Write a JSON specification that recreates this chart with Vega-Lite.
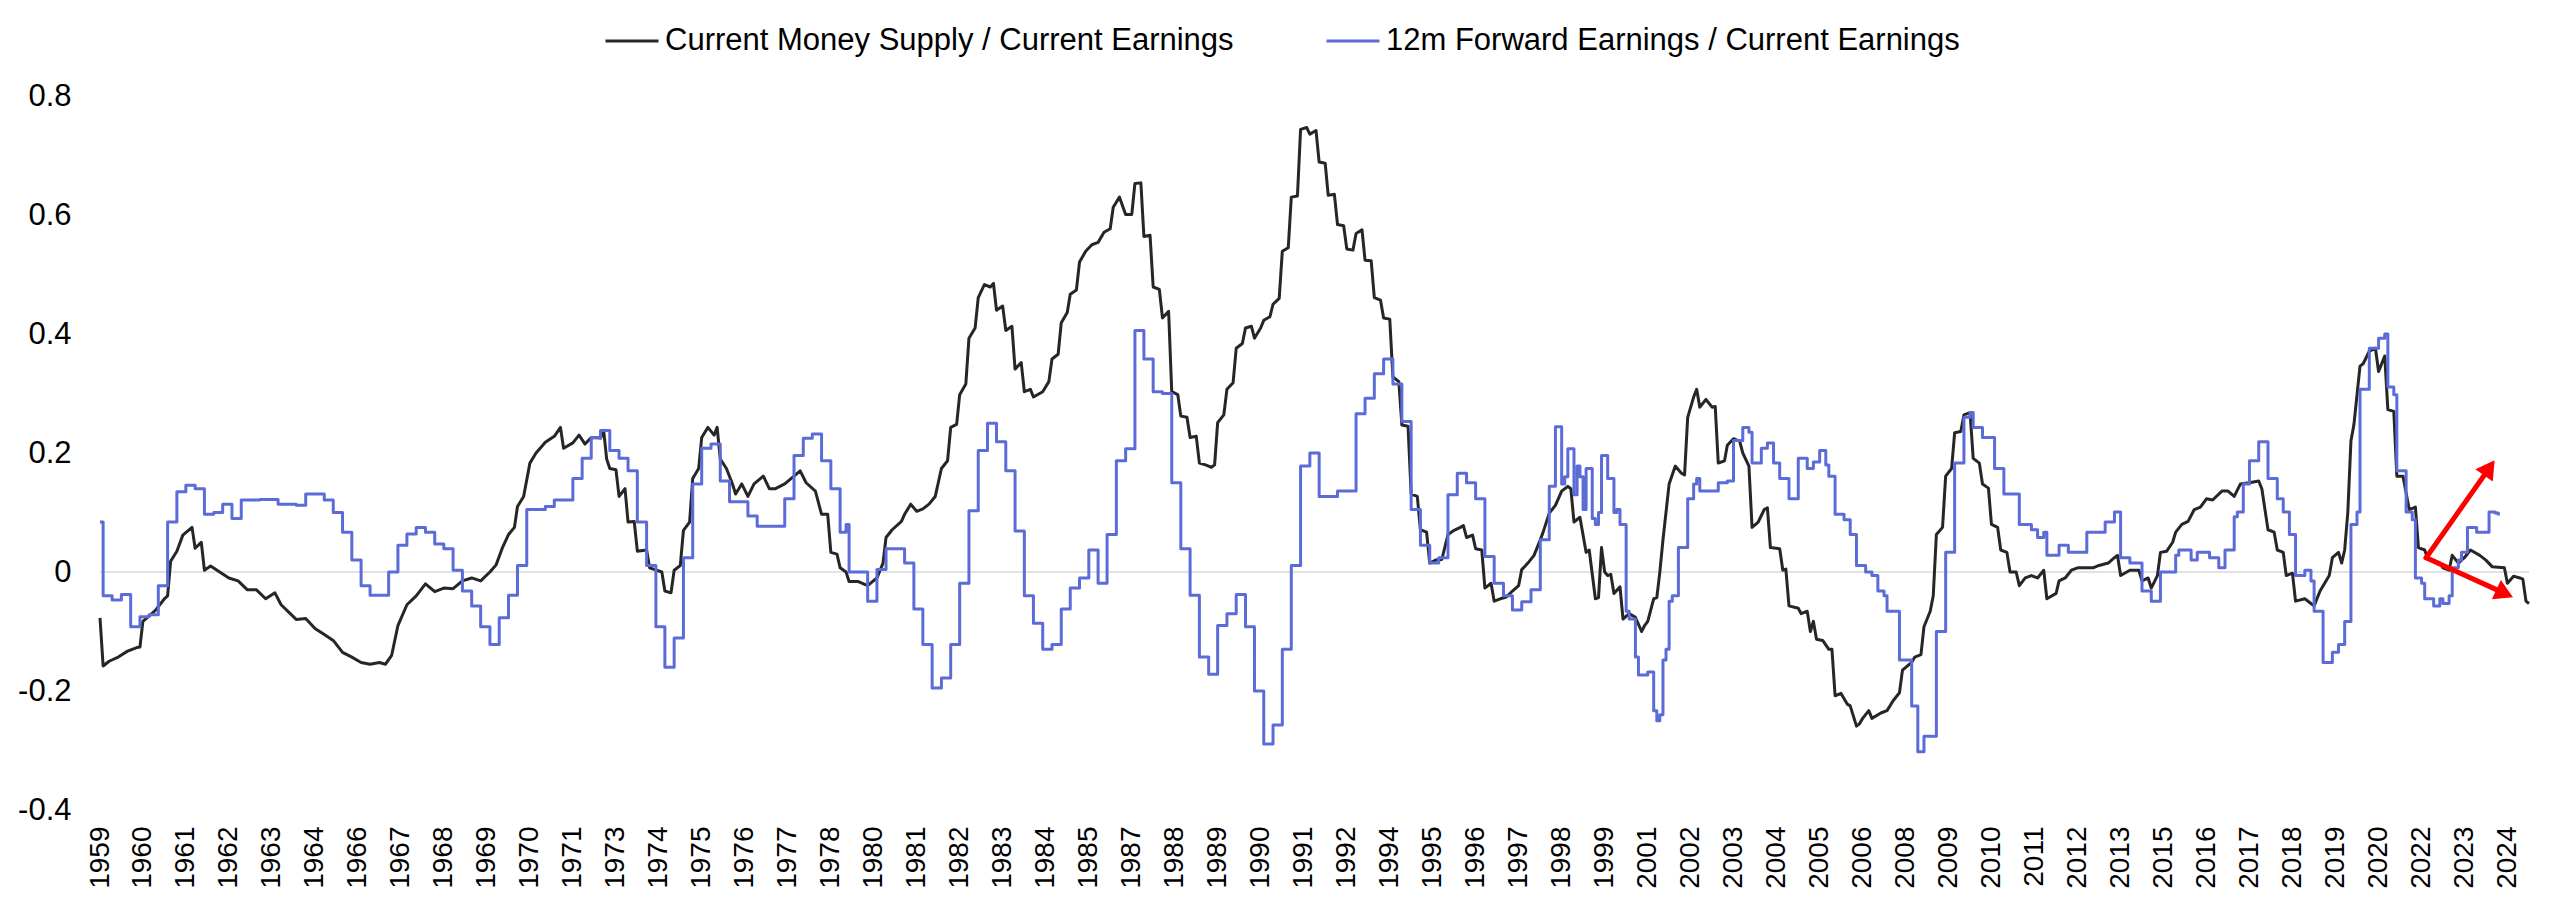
{
"$schema":"https://vega.github.io/schema/vega-lite/v6.json",
"width":2429,"height":714,
"autosize":{"type":"none"},
"padding":{"left":100,"top":96,"right":31,"bottom":106},
"background":"white",
"config":{"view":{"stroke":null},"font":"Liberation Sans"},
"datasets":{
"money":[
{"d":"1959-01","v":-0.077},{"d":"1959-02","v":-0.158},{"d":"1959-04","v":-0.15},{"d":"1959-07","v":-0.143},{"d":"1959-10","v":-0.133},{"d":"1960-01","v":-0.127},{"d":"1960-02","v":-0.126},{"d":"1960-03","v":-0.083},{"d":"1960-07","v":-0.065},{"d":"1960-10","v":-0.045},{"d":"1960-11","v":-0.04},{"d":"1960-12","v":0.018},
{"d":"1961-02","v":0.035},{"d":"1961-04","v":0.062},{"d":"1961-07","v":0.075},{"d":"1961-08","v":0.04},{"d":"1961-10","v":0.05},{"d":"1961-11","v":0.003},{"d":"1962-01","v":0.01},{"d":"1962-04","v":0.0},{"d":"1962-07","v":-0.01},{"d":"1962-10","v":-0.015},
{"d":"1963-01","v":-0.03},{"d":"1963-04","v":-0.03},{"d":"1963-07","v":-0.045},{"d":"1963-10","v":-0.035},{"d":"1963-12","v":-0.055},{"d":"1964-03","v":-0.07},{"d":"1964-05","v":-0.08},{"d":"1964-08","v":-0.078},{"d":"1964-11","v":-0.095},
{"d":"1965-02","v":-0.105},{"d":"1965-05","v":-0.115},{"d":"1965-08","v":-0.135},{"d":"1965-11","v":-0.143},{"d":"1966-02","v":-0.152},{"d":"1966-05","v":-0.155},{"d":"1966-08","v":-0.152},{"d":"1966-10","v":-0.155},{"d":"1966-12","v":-0.14},
{"d":"1967-02","v":-0.09},{"d":"1967-05","v":-0.055},{"d":"1967-08","v":-0.04},{"d":"1967-11","v":-0.02},{"d":"1968-02","v":-0.033},{"d":"1968-05","v":-0.027},{"d":"1968-08","v":-0.028},{"d":"1968-11","v":-0.015},
{"d":"1969-02","v":-0.01},{"d":"1969-05","v":-0.015},{"d":"1969-08","v":0.0},{"d":"1969-10","v":0.012},{"d":"1969-12","v":0.04},{"d":"1970-02","v":0.063},{"d":"1970-04","v":0.075},{"d":"1970-05","v":0.11},{"d":"1970-07","v":0.127},{"d":"1970-09","v":0.183},{"d":"1970-11","v":0.2},
{"d":"1971-02","v":0.218},{"d":"1971-05","v":0.228},{"d":"1971-07","v":0.243},{"d":"1971-08","v":0.208},{"d":"1971-11","v":0.217},{"d":"1972-01","v":0.23},{"d":"1972-03","v":0.215},{"d":"1972-05","v":0.226},{"d":"1972-08","v":0.225},{"d":"1972-09","v":0.238},{"d":"1972-10","v":0.19},{"d":"1972-11","v":0.174},
{"d":"1973-01","v":0.172},{"d":"1973-02","v":0.127},{"d":"1973-04","v":0.14},{"d":"1973-05","v":0.084},{"d":"1973-07","v":0.085},{"d":"1973-08","v":0.035},{"d":"1973-11","v":0.037},{"d":"1973-12","v":0.007},
{"d":"1974-04","v":0.0},{"d":"1974-05","v":-0.032},{"d":"1974-07","v":-0.035},{"d":"1974-08","v":0.003},{"d":"1974-10","v":0.011},{"d":"1974-11","v":0.07},
{"d":"1975-01","v":0.084},{"d":"1975-02","v":0.157},{"d":"1975-04","v":0.174},{"d":"1975-05","v":0.226},{"d":"1975-07","v":0.243},{"d":"1975-09","v":0.23},{"d":"1975-10","v":0.243},{"d":"1975-11","v":0.19},
{"d":"1976-01","v":0.174},{"d":"1976-03","v":0.148},{"d":"1976-04","v":0.131},{"d":"1976-06","v":0.148},{"d":"1976-08","v":0.127},{"d":"1976-10","v":0.148},
{"d":"1977-01","v":0.161},{"d":"1977-03","v":0.14},{"d":"1977-05","v":0.14},{"d":"1977-08","v":0.148},{"d":"1977-11","v":0.161},
{"d":"1978-01","v":0.17},{"d":"1978-03","v":0.15},{"d":"1978-06","v":0.136},{"d":"1978-08","v":0.097},{"d":"1978-10","v":0.097},{"d":"1978-11","v":0.033},
{"d":"1979-01","v":0.03},{"d":"1979-02","v":0.007},{"d":"1979-04","v":0.0},{"d":"1979-05","v":-0.016},{"d":"1979-08","v":-0.016},{"d":"1979-11","v":-0.023},
{"d":"1980-02","v":-0.01},{"d":"1980-04","v":0.015},{"d":"1980-05","v":0.058},{"d":"1980-07","v":0.071},{"d":"1980-10","v":0.085},{"d":"1980-11","v":0.097},
{"d":"1981-01","v":0.114},{"d":"1981-03","v":0.102},{"d":"1981-05","v":0.106},{"d":"1981-07","v":0.114},{"d":"1981-09","v":0.127},{"d":"1981-11","v":0.174},
{"d":"1982-01","v":0.187},{"d":"1982-02","v":0.243},{"d":"1982-04","v":0.248},{"d":"1982-05","v":0.298},{"d":"1982-07","v":0.316},{"d":"1982-08","v":0.393},{"d":"1982-10","v":0.41},{"d":"1982-11","v":0.461},
{"d":"1983-01","v":0.483},{"d":"1983-03","v":0.479},{"d":"1983-04","v":0.485},{"d":"1983-05","v":0.44},{"d":"1983-07","v":0.447},{"d":"1983-08","v":0.406},{"d":"1983-10","v":0.413},{"d":"1983-11","v":0.341},
{"d":"1984-01","v":0.352},{"d":"1984-02","v":0.303},{"d":"1984-04","v":0.307},{"d":"1984-05","v":0.294},{"d":"1984-08","v":0.303},{"d":"1984-10","v":0.32},{"d":"1984-11","v":0.358},
{"d":"1985-01","v":0.366},{"d":"1985-02","v":0.419},{"d":"1985-04","v":0.436},{"d":"1985-05","v":0.467},{"d":"1985-07","v":0.474},{"d":"1985-08","v":0.521},{"d":"1985-10","v":0.539},{"d":"1985-12","v":0.55},
{"d":"1986-02","v":0.554},{"d":"1986-04","v":0.571},{"d":"1986-06","v":0.577},{"d":"1986-07","v":0.613},{"d":"1986-09","v":0.63},{"d":"1986-11","v":0.601},
{"d":"1987-01","v":0.601},{"d":"1987-02","v":0.653},{"d":"1987-04","v":0.654},{"d":"1987-05","v":0.564},{"d":"1987-07","v":0.566},{"d":"1987-08","v":0.479},{"d":"1987-10","v":0.475},{"d":"1987-11","v":0.427},
{"d":"1988-01","v":0.438},{"d":"1988-02","v":0.303},{"d":"1988-04","v":0.298},{"d":"1988-05","v":0.262},{"d":"1988-07","v":0.26},{"d":"1988-08","v":0.226},{"d":"1988-10","v":0.228},{"d":"1988-11","v":0.183},
{"d":"1989-01","v":0.18},{"d":"1989-03","v":0.176},{"d":"1989-04","v":0.18},{"d":"1989-05","v":0.251},{"d":"1989-07","v":0.264},{"d":"1989-08","v":0.307},{"d":"1989-10","v":0.318},{"d":"1989-11","v":0.376},
{"d":"1990-01","v":0.384},{"d":"1990-02","v":0.41},{"d":"1990-04","v":0.413},{"d":"1990-05","v":0.393},{"d":"1990-07","v":0.41},{"d":"1990-08","v":0.423},{"d":"1990-10","v":0.429},{"d":"1990-11","v":0.45},
{"d":"1991-01","v":0.46},{"d":"1991-02","v":0.539},{"d":"1991-04","v":0.545},{"d":"1991-05","v":0.63},{"d":"1991-07","v":0.632},{"d":"1991-08","v":0.744},{"d":"1991-10","v":0.747},{"d":"1991-11","v":0.736},
{"d":"1992-01","v":0.742},{"d":"1992-02","v":0.689},{"d":"1992-04","v":0.687},{"d":"1992-05","v":0.633},{"d":"1992-07","v":0.635},{"d":"1992-08","v":0.584},{"d":"1992-10","v":0.582},{"d":"1992-11","v":0.543},
{"d":"1993-01","v":0.541},{"d":"1993-02","v":0.569},{"d":"1993-04","v":0.575},{"d":"1993-05","v":0.524},{"d":"1993-07","v":0.523},{"d":"1993-08","v":0.461},{"d":"1993-10","v":0.457},{"d":"1993-11","v":0.427},
{"d":"1994-01","v":0.425},{"d":"1994-02","v":0.328},{"d":"1994-04","v":0.32},{"d":"1994-05","v":0.247},{"d":"1994-07","v":0.245},{"d":"1994-08","v":0.131},{"d":"1994-10","v":0.127},{"d":"1994-11","v":0.071},
{"d":"1995-01","v":0.067},{"d":"1995-02","v":0.015},{"d":"1995-04","v":0.02},{"d":"1995-06","v":0.021},{"d":"1995-08","v":0.063},{"d":"1995-10","v":0.07},{"d":"1995-12","v":0.075},
{"d":"1996-01","v":0.078},{"d":"1996-02","v":0.058},{"d":"1996-04","v":0.062},{"d":"1996-05","v":0.039},{"d":"1996-07","v":0.037},{"d":"1996-08","v":-0.027},{"d":"1996-10","v":-0.019},{"d":"1996-11","v":-0.049},
{"d":"1997-01","v":-0.045},{"d":"1997-03","v":-0.042},{"d":"1997-05","v":-0.032},{"d":"1997-07","v":-0.023},{"d":"1997-08","v":0.004},{"d":"1997-10","v":0.015},{"d":"1997-12","v":0.028},
{"d":"1998-02","v":0.054},{"d":"1998-03","v":0.067},{"d":"1998-05","v":0.099},{"d":"1998-07","v":0.112},{"d":"1998-09","v":0.136},{"d":"1998-11","v":0.144},{"d":"1998-12","v":0.14},
{"d":"1999-01","v":0.084},{"d":"1999-03","v":0.092},{"d":"1999-05","v":0.033},{"d":"1999-06","v":0.037},{"d":"1999-08","v":-0.045},{"d":"1999-09","v":-0.043},{"d":"1999-10","v":0.041},{"d":"1999-11","v":0.0},{"d":"1999-12","v":-0.006},
{"d":"2000-01","v":-0.004},{"d":"2000-02","v":-0.036},{"d":"2000-04","v":-0.025},{"d":"2000-05","v":-0.079},{"d":"2000-07","v":-0.07},{"d":"2000-09","v":-0.076},{"d":"2000-11","v":-0.1},{"d":"2000-12","v":-0.09},
{"d":"2001-01","v":-0.083},{"d":"2001-03","v":-0.045},{"d":"2001-04","v":-0.043},{"d":"2001-05","v":0.0},{"d":"2001-06","v":0.054},{"d":"2001-07","v":0.1},{"d":"2001-08","v":0.148},{"d":"2001-10","v":0.178},{"d":"2001-12","v":0.166},
{"d":"2002-01","v":0.163},{"d":"2002-02","v":0.26},{"d":"2002-04","v":0.294},{"d":"2002-05","v":0.307},{"d":"2002-06","v":0.277},{"d":"2002-08","v":0.29},{"d":"2002-10","v":0.277},{"d":"2002-11","v":0.278},{"d":"2002-12","v":0.183},
{"d":"2003-02","v":0.187},{"d":"2003-03","v":0.213},{"d":"2003-05","v":0.224},{"d":"2003-07","v":0.22},{"d":"2003-08","v":0.2},{"d":"2003-10","v":0.178},{"d":"2003-11","v":0.075},
{"d":"2004-01","v":0.084},{"d":"2004-03","v":0.105},{"d":"2004-04","v":0.108},{"d":"2004-05","v":0.041},{"d":"2004-08","v":0.039},{"d":"2004-09","v":0.003},{"d":"2004-10","v":0.005},{"d":"2004-11","v":-0.057},
{"d":"2005-02","v":-0.061},{"d":"2005-03","v":-0.07},{"d":"2005-05","v":-0.066},{"d":"2005-06","v":-0.1},{"d":"2005-07","v":-0.083},{"d":"2005-08","v":-0.113},{"d":"2005-10","v":-0.115},{"d":"2005-12","v":-0.13},
{"d":"2006-01","v":-0.13},{"d":"2006-02","v":-0.208},{"d":"2006-04","v":-0.204},{"d":"2006-06","v":-0.222},{"d":"2006-07","v":-0.225},{"d":"2006-09","v":-0.259},{"d":"2006-10","v":-0.255},{"d":"2006-11","v":-0.246},
{"d":"2007-01","v":-0.233},{"d":"2007-02","v":-0.246},{"d":"2007-05","v":-0.237},{"d":"2007-07","v":-0.233},{"d":"2007-09","v":-0.216},{"d":"2007-11","v":-0.203},{"d":"2007-12","v":-0.165},
{"d":"2008-03","v":-0.152},{"d":"2008-04","v":-0.143},{"d":"2008-06","v":-0.139},{"d":"2008-07","v":-0.092},{"d":"2008-09","v":-0.066},{"d":"2008-10","v":-0.04},{"d":"2008-11","v":0.063},
{"d":"2009-01","v":0.075},{"d":"2009-02","v":0.161},{"d":"2009-04","v":0.174},{"d":"2009-05","v":0.234},{"d":"2009-07","v":0.236},{"d":"2009-08","v":0.264},{"d":"2009-10","v":0.268},{"d":"2009-11","v":0.191},
{"d":"2010-01","v":0.183},{"d":"2010-02","v":0.148},{"d":"2010-04","v":0.141},{"d":"2010-05","v":0.08},{"d":"2010-07","v":0.075},{"d":"2010-08","v":0.037},{"d":"2010-10","v":0.033},{"d":"2010-11","v":0.0},
{"d":"2011-01","v":0.0},{"d":"2011-02","v":-0.023},{"d":"2011-04","v":-0.01},{"d":"2011-06","v":-0.006},{"d":"2011-08","v":-0.01},{"d":"2011-10","v":0.003},{"d":"2011-11","v":-0.045},
{"d":"2012-02","v":-0.036},{"d":"2012-03","v":-0.015},{"d":"2012-05","v":-0.01},{"d":"2012-07","v":0.003},{"d":"2012-09","v":0.007},{"d":"2012-12","v":0.007},
{"d":"2013-02","v":0.007},{"d":"2013-04","v":0.011},{"d":"2013-07","v":0.015},{"d":"2013-09","v":0.024},{"d":"2013-10","v":0.028},{"d":"2013-11","v":-0.006},
{"d":"2014-02","v":0.003},{"d":"2014-05","v":0.003},{"d":"2014-06","v":-0.015},{"d":"2014-08","v":-0.01},{"d":"2014-09","v":-0.027},{"d":"2014-11","v":-0.006},{"d":"2014-12","v":0.033},
{"d":"2015-02","v":0.035},{"d":"2015-04","v":0.05},{"d":"2015-05","v":0.067},{"d":"2015-07","v":0.08},{"d":"2015-09","v":0.085},{"d":"2015-11","v":0.105},
{"d":"2016-01","v":0.109},{"d":"2016-03","v":0.123},{"d":"2016-05","v":0.121},{"d":"2016-08","v":0.136},{"d":"2016-10","v":0.136},{"d":"2016-12","v":0.127},
{"d":"2017-02","v":0.148},{"d":"2017-05","v":0.15},{"d":"2017-08","v":0.153},{"d":"2017-09","v":0.14},{"d":"2017-11","v":0.071},
{"d":"2018-01","v":0.067},{"d":"2018-02","v":0.037},{"d":"2018-04","v":0.033},{"d":"2018-05","v":-0.006},{"d":"2018-07","v":-0.002},{"d":"2018-08","v":-0.049},{"d":"2018-11","v":-0.045},
{"d":"2019-01","v":-0.053},{"d":"2019-02","v":-0.057},{"d":"2019-04","v":-0.032},{"d":"2019-07","v":-0.006},{"d":"2019-08","v":0.024},{"d":"2019-10","v":0.033},{"d":"2019-11","v":0.015},{"d":"2019-12","v":0.037},
{"d":"2020-01","v":0.1},{"d":"2020-02","v":0.22},{"d":"2020-03","v":0.247},{"d":"2020-05","v":0.346},{"d":"2020-06","v":0.35},{"d":"2020-08","v":0.371},{"d":"2020-10","v":0.376},{"d":"2020-11","v":0.337},
{"d":"2021-01","v":0.363},{"d":"2021-02","v":0.273},{"d":"2021-04","v":0.27},{"d":"2021-05","v":0.161},{"d":"2021-07","v":0.161},{"d":"2021-09","v":0.105},{"d":"2021-11","v":0.109},{"d":"2021-12","v":0.041},
{"d":"2022-02","v":0.037},{"d":"2022-03","v":0.024},{"d":"2022-05","v":0.02},{"d":"2022-07","v":0.015},{"d":"2022-08","v":0.007},{"d":"2022-10","v":0.003},{"d":"2022-11","v":0.028},
{"d":"2023-01","v":0.015},{"d":"2023-03","v":0.024},{"d":"2023-05","v":0.037},{"d":"2023-08","v":0.028},{"d":"2023-10","v":0.02},{"d":"2023-12","v":0.009},
{"d":"2024-04","v":0.007},{"d":"2024-05","v":-0.019},{"d":"2024-07","v":-0.007},{"d":"2024-09","v":-0.01},{"d":"2024-10","v":-0.012},{"d":"2024-11","v":-0.049},{"d":"2024-12","v":-0.053}
],
"fwd":[
{"d":"1959-01","v":0.084},{"d":"1959-02","v":-0.04},{"d":"1959-05","v":-0.047},{"d":"1959-08","v":-0.038},{"d":"1959-11","v":-0.092},{"d":"1960-02","v":-0.075},{"d":"1960-05","v":-0.072},{"d":"1960-08","v":-0.023},{"d":"1960-11","v":0.084},
{"d":"1961-02","v":0.135},{"d":"1961-05","v":0.146},{"d":"1961-08","v":0.14},{"d":"1961-11","v":0.097},{"d":"1962-02","v":0.1},{"d":"1962-05","v":0.114},{"d":"1962-08","v":0.09},{"d":"1962-11","v":0.121},
{"d":"1963-05","v":0.122},{"d":"1963-11","v":0.114},{"d":"1964-05","v":0.112},{"d":"1964-08","v":0.131},{"d":"1965-02","v":0.121},{"d":"1965-05","v":0.1},{"d":"1965-08","v":0.067},{"d":"1965-11","v":0.02},
{"d":"1966-02","v":-0.023},{"d":"1966-05","v":-0.039},{"d":"1966-11","v":0.0},{"d":"1967-02","v":0.045},{"d":"1967-05","v":0.064},{"d":"1967-08","v":0.075},{"d":"1967-11","v":0.067},
{"d":"1968-02","v":0.047},{"d":"1968-05","v":0.039},{"d":"1968-08","v":0.003},{"d":"1968-11","v":-0.032},{"d":"1969-02","v":-0.057},{"d":"1969-05","v":-0.092},{"d":"1969-08","v":-0.122},{"d":"1969-11","v":-0.077},
{"d":"1970-02","v":-0.039},{"d":"1970-05","v":0.011},{"d":"1970-08","v":0.105},{"d":"1971-02","v":0.11},{"d":"1971-05","v":0.121},{"d":"1971-11","v":0.157},
{"d":"1972-02","v":0.191},{"d":"1972-05","v":0.226},{"d":"1972-08","v":0.238},{"d":"1972-11","v":0.204},{"d":"1973-02","v":0.191},{"d":"1973-05","v":0.17},{"d":"1973-08","v":0.084},{"d":"1973-11","v":0.011},
{"d":"1974-02","v":-0.092},{"d":"1974-05","v":-0.16},{"d":"1974-08","v":-0.111},{"d":"1974-11","v":0.024},{"d":"1975-02","v":0.148},{"d":"1975-05","v":0.208},{"d":"1975-08","v":0.215},{"d":"1975-11","v":0.153},
{"d":"1976-02","v":0.118},{"d":"1976-08","v":0.094},{"d":"1976-11","v":0.077},{"d":"1977-08","v":0.123},{"d":"1977-11","v":0.196},
{"d":"1978-02","v":0.225},{"d":"1978-05","v":0.232},{"d":"1978-08","v":0.187},{"d":"1978-11","v":0.14},{"d":"1979-02","v":0.067},{"d":"1979-04","v":0.08},{"d":"1979-05","v":0.0},{"d":"1979-11","v":-0.049},
{"d":"1980-02","v":0.004},{"d":"1980-05","v":0.039},{"d":"1980-11","v":0.015},{"d":"1981-02","v":-0.062},{"d":"1981-05","v":-0.122},{"d":"1981-08","v":-0.195},{"d":"1981-11","v":-0.178},
{"d":"1982-02","v":-0.122},{"d":"1982-05","v":-0.019},{"d":"1982-08","v":0.103},{"d":"1982-11","v":0.204},{"d":"1983-02","v":0.25},{"d":"1983-05","v":0.219},{"d":"1983-08","v":0.17},{"d":"1983-11","v":0.069},
{"d":"1984-02","v":-0.04},{"d":"1984-05","v":-0.086},{"d":"1984-08","v":-0.13},{"d":"1984-11","v":-0.122},{"d":"1985-02","v":-0.062},{"d":"1985-05","v":-0.027},{"d":"1985-08","v":-0.01},{"d":"1985-11","v":0.037},
{"d":"1986-02","v":-0.019},{"d":"1986-05","v":0.063},{"d":"1986-08","v":0.187},{"d":"1986-11","v":0.207},{"d":"1987-02","v":0.406},{"d":"1987-05","v":0.358},{"d":"1987-08","v":0.303},{"d":"1987-11","v":0.3},
{"d":"1988-02","v":0.15},{"d":"1988-05","v":0.039},{"d":"1988-08","v":-0.039},{"d":"1988-11","v":-0.143},{"d":"1989-02","v":-0.172},{"d":"1989-05","v":-0.09},{"d":"1989-08","v":-0.07},{"d":"1989-11","v":-0.038},
{"d":"1990-02","v":-0.092},{"d":"1990-05","v":-0.2},{"d":"1990-08","v":-0.289},{"d":"1990-11","v":-0.257},{"d":"1991-02","v":-0.13},{"d":"1991-05","v":0.011},{"d":"1991-08","v":0.178},{"d":"1991-11","v":0.2},
{"d":"1992-02","v":0.127},{"d":"1992-08","v":0.136},{"d":"1993-02","v":0.266},{"d":"1993-05","v":0.292},{"d":"1993-08","v":0.333},{"d":"1993-11","v":0.358},
{"d":"1994-02","v":0.316},{"d":"1994-05","v":0.253},{"d":"1994-08","v":0.105},{"d":"1994-11","v":0.045},{"d":"1995-02","v":0.015},{"d":"1995-05","v":0.024},{"d":"1995-08","v":0.13},{"d":"1995-11","v":0.166},
{"d":"1996-02","v":0.15},{"d":"1996-05","v":0.123},{"d":"1996-08","v":0.026},{"d":"1996-11","v":-0.019},{"d":"1997-02","v":-0.04},{"d":"1997-05","v":-0.064},{"d":"1997-08","v":-0.05},{"d":"1997-11","v":-0.03},
{"d":"1998-02","v":0.054},{"d":"1998-05","v":0.144},{"d":"1998-07","v":0.244},{"d":"1998-09","v":0.148},{"d":"1998-10","v":0.16},{"d":"1998-11","v":0.207},
{"d":"1999-01","v":0.13},{"d":"1999-02","v":0.178},{"d":"1999-03","v":0.16},{"d":"1999-04","v":0.105},{"d":"1999-05","v":0.174},{"d":"1999-07","v":0.09},{"d":"1999-08","v":0.08},{"d":"1999-09","v":0.1},{"d":"1999-10","v":0.196},{"d":"1999-12","v":0.157},
{"d":"2000-02","v":0.1},{"d":"2000-03","v":0.105},{"d":"2000-04","v":0.08},{"d":"2000-06","v":-0.066},{"d":"2000-07","v":-0.079},{"d":"2000-09","v":-0.143},{"d":"2000-10","v":-0.173},
{"d":"2001-01","v":-0.168},{"d":"2001-03","v":-0.233},{"d":"2001-04","v":-0.25},{"d":"2001-05","v":-0.24},{"d":"2001-06","v":-0.148},{"d":"2001-07","v":-0.13},{"d":"2001-08","v":-0.049},{"d":"2001-09","v":-0.04},{"d":"2001-11","v":0.041},
{"d":"2002-02","v":0.123},{"d":"2002-04","v":0.148},{"d":"2002-05","v":0.157},{"d":"2002-06","v":0.136},{"d":"2002-12","v":0.15},
{"d":"2003-03","v":0.153},{"d":"2003-05","v":0.221},{"d":"2003-08","v":0.243},{"d":"2003-10","v":0.235},{"d":"2003-11","v":0.183},
{"d":"2004-02","v":0.208},{"d":"2004-04","v":0.217},{"d":"2004-06","v":0.183},{"d":"2004-08","v":0.157},{"d":"2004-11","v":0.123},
{"d":"2005-02","v":0.191},{"d":"2005-05","v":0.174},{"d":"2005-07","v":0.185},{"d":"2005-09","v":0.204},{"d":"2005-11","v":0.18},{"d":"2005-12","v":0.161},
{"d":"2006-02","v":0.097},{"d":"2006-05","v":0.088},{"d":"2006-07","v":0.063},{"d":"2006-09","v":0.011},{"d":"2006-12","v":0.0},
{"d":"2007-02","v":-0.006},{"d":"2007-04","v":-0.032},{"d":"2007-06","v":-0.04},{"d":"2007-07","v":-0.066},{"d":"2007-11","v":-0.148},
{"d":"2008-03","v":-0.225},{"d":"2008-05","v":-0.302},{"d":"2008-07","v":-0.276},{"d":"2008-11","v":-0.1},
{"d":"2009-02","v":0.033},{"d":"2009-05","v":0.183},{"d":"2009-08","v":0.26},{"d":"2009-10","v":0.268},{"d":"2009-11","v":0.243},
{"d":"2010-02","v":0.226},{"d":"2010-06","v":0.174},{"d":"2010-09","v":0.131},{"d":"2011-02","v":0.08},{"d":"2011-06","v":0.071},{"d":"2011-08","v":0.058},{"d":"2011-10","v":0.067},{"d":"2011-11","v":0.028},
{"d":"2012-03","v":0.045},{"d":"2012-06","v":0.033},{"d":"2012-12","v":0.067},{"d":"2013-06","v":0.084},{"d":"2013-09","v":0.101},{"d":"2013-11","v":0.024},
{"d":"2014-02","v":0.015},{"d":"2014-06","v":-0.032},{"d":"2014-09","v":-0.049},{"d":"2014-12","v":0.0},
{"d":"2015-05","v":0.028},{"d":"2015-06","v":0.037},{"d":"2015-10","v":0.02},{"d":"2015-12","v":0.033},
{"d":"2016-04","v":0.024},{"d":"2016-07","v":0.007},{"d":"2016-09","v":0.037},{"d":"2016-12","v":0.093},
{"d":"2017-01","v":0.101},{"d":"2017-03","v":0.148},{"d":"2017-05","v":0.187},{"d":"2017-08","v":0.219},{"d":"2017-11","v":0.157},
{"d":"2018-02","v":0.123},{"d":"2018-04","v":0.101},{"d":"2018-06","v":0.063},{"d":"2018-08","v":-0.006},{"d":"2018-11","v":0.003},
{"d":"2019-01","v":-0.015},{"d":"2019-02","v":-0.066},{"d":"2019-05","v":-0.152},{"d":"2019-08","v":-0.135},{"d":"2019-10","v":-0.122},{"d":"2019-12","v":-0.083},
{"d":"2020-02","v":0.08},{"d":"2020-04","v":0.101},{"d":"2020-05","v":0.307},{"d":"2020-08","v":0.376},{"d":"2020-11","v":0.393},
{"d":"2021-01","v":0.4},{"d":"2021-02","v":0.311},{"d":"2021-04","v":0.298},{"d":"2021-05","v":0.17},{"d":"2021-08","v":0.101},{"d":"2021-10","v":0.088},{"d":"2021-11","v":-0.01},
{"d":"2022-01","v":-0.019},{"d":"2022-02","v":-0.045},{"d":"2022-05","v":-0.057},{"d":"2022-07","v":-0.045},{"d":"2022-08","v":-0.053},{"d":"2022-10","v":-0.04},{"d":"2022-11","v":0.007},
{"d":"2023-01","v":0.02},{"d":"2023-02","v":0.033},{"d":"2023-04","v":0.075},{"d":"2023-07","v":0.067},{"d":"2023-11","v":0.101},
{"d":"2024-01","v":0.099},{"d":"2024-02","v":0.095}
]
},
"encoding":{
 "x":{"field":"d","type":"temporal","scale":{"type":"utc","domain":[{"year":1959,"month":1,"date":1,"utc":true},{"year":2024,"month":12,"date":1,"utc":true}],"nice":false},
  "axis":{"title":null,"format":"%Y","labelAngle":270,"labelFontSize":28,"labelFont":"Liberation Sans","labelColor":"#000000","labelPadding":16,"ticks":false,"tickSize":0,"domain":false,"grid":false,"labelFlush":false,"labelOverlap":false,"labelBound":false,
   "values":[{"year":1959,"month":1,"date":1,"utc":true},{"year":1960,"month":3,"date":1,"utc":true},{"year":1961,"month":5,"date":1,"utc":true},{"year":1962,"month":7,"date":1,"utc":true},{"year":1963,"month":9,"date":1,"utc":true},{"year":1964,"month":11,"date":1,"utc":true},{"year":1966,"month":1,"date":1,"utc":true},{"year":1967,"month":3,"date":1,"utc":true},{"year":1968,"month":5,"date":1,"utc":true},{"year":1969,"month":7,"date":1,"utc":true},{"year":1970,"month":9,"date":1,"utc":true},{"year":1971,"month":11,"date":1,"utc":true},{"year":1973,"month":1,"date":1,"utc":true},{"year":1974,"month":3,"date":1,"utc":true},{"year":1975,"month":5,"date":1,"utc":true},{"year":1976,"month":7,"date":1,"utc":true},{"year":1977,"month":9,"date":1,"utc":true},{"year":1978,"month":11,"date":1,"utc":true},{"year":1980,"month":1,"date":1,"utc":true},{"year":1981,"month":3,"date":1,"utc":true},{"year":1982,"month":5,"date":1,"utc":true},{"year":1983,"month":7,"date":1,"utc":true},{"year":1984,"month":9,"date":1,"utc":true},{"year":1985,"month":11,"date":1,"utc":true},{"year":1987,"month":1,"date":1,"utc":true},{"year":1988,"month":3,"date":1,"utc":true},{"year":1989,"month":5,"date":1,"utc":true},{"year":1990,"month":7,"date":1,"utc":true},{"year":1991,"month":9,"date":1,"utc":true},{"year":1992,"month":11,"date":1,"utc":true},{"year":1994,"month":1,"date":1,"utc":true},{"year":1995,"month":3,"date":1,"utc":true},{"year":1996,"month":5,"date":1,"utc":true},{"year":1997,"month":7,"date":1,"utc":true},{"year":1998,"month":9,"date":1,"utc":true},{"year":1999,"month":11,"date":1,"utc":true},{"year":2001,"month":1,"date":1,"utc":true},{"year":2002,"month":3,"date":1,"utc":true},{"year":2003,"month":5,"date":1,"utc":true},{"year":2004,"month":7,"date":1,"utc":true},{"year":2005,"month":9,"date":1,"utc":true},{"year":2006,"month":11,"date":1,"utc":true},{"year":2008,"month":1,"date":1,"utc":true},{"year":2009,"month":3,"date":1,"utc":true},{"year":2010,"month":5,"date":1,"utc":true},{"year":2011,"month":7,"date":1,"utc":true},{"year":2012,"month":9,"date":1,"utc":true},{"year":2013,"month":11,"date":1,"utc":true},{"year":2015,"month":1,"date":1,"utc":true},{"year":2016,"month":3,"date":1,"utc":true},{"year":2017,"month":5,"date":1,"utc":true},{"year":2018,"month":7,"date":1,"utc":true},{"year":2019,"month":9,"date":1,"utc":true},{"year":2020,"month":11,"date":1,"utc":true},{"year":2022,"month":1,"date":1,"utc":true},{"year":2023,"month":3,"date":1,"utc":true},{"year":2024,"month":5,"date":1,"utc":true}]}},
 "y":{"field":"v","type":"quantitative","scale":{"domain":[-0.4,0.8],"nice":false,"zero":false},
  "axis":{"title":null,"values":[-0.4,-0.2,0,0.2,0.4,0.6,0.8],"labelExpr":"datum.value < 0 ? '-' + format(-datum.value, '.1~f') : format(datum.value, '.1~f')","labelFontSize":31,"labelFont":"Liberation Sans","labelColor":"#000000","labelPadding":29,"ticks":false,"tickSize":0,"domain":false,"grid":false}}
},
"layer":[
{"data":{"values":[{"d":"1959-01","v":0},{"d":"2024-12","v":0}]},
 "mark":{"type":"line","color":"#D9D9D9","strokeWidth":1.5}},
{"data":{"name":"money"},
 "mark":{"type":"line","strokeWidth":3,"strokeJoin":"round"},
 "encoding":{
  "color":{"datum":"Current Money Supply / Current Earnings","scale":{"domain":["Current Money Supply / Current Earnings","12m Forward Earnings / Current Earnings"],"range":["#262626","#5B6CD8"]},
   "legend":{"title":null,"orient":"none","legendX":504,"legendY":-83,"direction":"horizontal","padding":0,"symbolType":"stroke","symbolSize":2809,"symbolStrokeWidth":3,"labelFontSize":31,"labelFont":"Liberation Sans","labelColor":"#000000","labelOffset":5,"columnPadding":86,"labelLimit":2000}}}},
{"data":{"name":"fwd"},
 "mark":{"type":"line","strokeWidth":3,"interpolate":"step-after","strokeJoin":"round"},
 "encoding":{
  "color":{"datum":"12m Forward Earnings / Current Earnings","scale":{"domain":["Current Money Supply / Current Earnings","12m Forward Earnings / Current Earnings"],"range":["#262626","#5B6CD8"]},
   "legend":{"title":null,"orient":"none","legendX":504,"legendY":-83,"direction":"horizontal","padding":0,"symbolType":"stroke","symbolSize":2809,"symbolStrokeWidth":3,"labelFontSize":31,"labelFont":"Liberation Sans","labelColor":"#000000","labelOffset":5,"columnPadding":86,"labelLimit":2000}}}},
{"data":{"values":[{"d":"2022-02-15","v":0.024,"d2":"2023-09-16","v2":0.163},{"d":"2022-02-15","v":0.024,"d2":"2024-01-19","v2":-0.030}]},
 "mark":{"type":"rule","color":"#FF0000","strokeWidth":5,"strokeCap":"round"},
 "encoding":{"x2":{"field":"d2"},"y2":{"field":"v2"}}},
{"data":{"values":[{"d":"2023-11-04","v":0.175}]},
 "mark":{"type":"point","shape":"triangle-up","size":450,"filled":true,"color":"#FF0000","opacity":1,"angle":35}},
{"data":{"values":[{"d":"2024-04-04","v":-0.036}]},
 "mark":{"type":"point","shape":"triangle-up","size":450,"filled":true,"color":"#FF0000","opacity":1,"angle":115}}
]
}
